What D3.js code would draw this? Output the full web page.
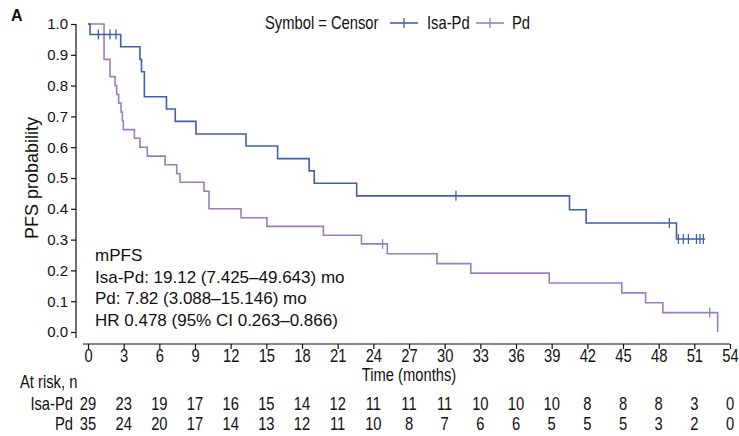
<!DOCTYPE html>
<html lang="en">
<head>
    <meta charset="UTF-8">
    <title>PFS Kaplan-Meier</title>
    <script src="https://cdn.jsdelivr.net/npm/d3@7/dist/d3.min.js"></script>
    <style>
        body{ margin:0; background:#fff; }
        text{ font-family: "Liberation Sans", Arial, sans-serif; fill:#111; }
    </style>
</head>
<body>
<svg width="739" height="436"></svg>
<script>
    // step data: drop time (months) and survival after the drop
    var isaTimes = [0, 0.17, 2.75, 4.37, 4.50, 4.74, 6.60, 7.34, 9.08, 13.29, 15.95, 18.60, 19.03, 22.60, 40.50, 41.90, 49.50, 51.9];
    var isaSurv  = [1, 0.966, 0.926, 0.885, 0.845, 0.764, 0.724, 0.684, 0.643, 0.604, 0.563, 0.523, 0.483, 0.442, 0.397, 0.354, 0.302, 0.302];
    var isaCensor = [0.87, 1.85, 2.35, 30.95, 48.9, 49.66, 50.08, 50.5, 51.18, 51.47, 51.76];

    var pdTimes = [0, 1.35, 1.85, 2.27, 2.41, 2.58, 2.78, 2.89, 2.97, 3.90, 4.37, 4.99, 6.48, 7.46, 7.74, 9.76, 10.18, 12.87, 15.05, 19.80, 23.00, 25.17, 29.35, 32.20, 38.80, 44.90, 46.90, 48.35, 52.96];
    var pdSurv  = [1, 0.885, 0.829, 0.800, 0.771, 0.743, 0.714, 0.686, 0.657, 0.629, 0.600, 0.571, 0.543, 0.514, 0.486, 0.457, 0.400, 0.371, 0.343, 0.314, 0.286, 0.254, 0.222, 0.191, 0.159, 0.127, 0.095, 0.063, 0.0];
    var pdCensor = [24.78, 52.3];

    var xTicks = [0, 3, 6, 9, 12, 15, 18, 21, 24, 27, 30, 33, 36, 39, 42, 45, 48, 51, 54];
    var yTicks = [0, 0.1, 0.2, 0.3, 0.4, 0.5, 0.6, 0.7, 0.8, 0.9, 1.0];
    var isaRisk = [29, 23, 19, 17, 16, 15, 14, 12, 11, 11, 11, 10, 10, 10, 8, 8, 8, 3, 0];
    var pdRisk  = [35, 24, 20, 17, 14, 13, 12, 11, 10, 8, 7, 6, 6, 5, 5, 5, 3, 2, 0];

    var blue = "#3f60ad", purple = "#9b7cc1";
    var squeeze = "scale(0.82,1)";   // no narrow font installed, so squash regular one

    var svg = d3.select("svg");
    var x = d3.scaleLinear().domain([0, 54]).range([88, 730]);
    var y = d3.scaleLinear().domain([0, 1]).range([332, 24]);

    // narrow-looking text at x,y
    function ntext(parent, tx, ty, str, anchor, size) {
        return parent.append("text")
            .attr("transform", "translate(" + tx + "," + ty + ") " + squeeze)
            .attr("text-anchor", anchor || "start")
            .attr("font-size", size || 18)
            .text(str);
    }

    // y axis
    var yAxis = svg.append("g")
        .attr("transform", "translate(76,0)")
        .call(d3.axisLeft(y).tickValues(yTicks).tickFormat(d3.format(".1f")).tickSize(5).tickSizeOuter(0));
    yAxis.select(".domain").remove();
    yAxis.append("line").attr("x1", 0).attr("x2", 0).attr("y1", 24).attr("y2", 338)
        .attr("stroke", "#111").attr("stroke-width", 1.2);
    yAxis.selectAll(".tick line").attr("stroke", "#111").attr("stroke-width", 1.2);
    yAxis.selectAll(".tick text").attr("font-size", 15).attr("x", -8)
        .style("font-family", "'Liberation Sans', Arial, sans-serif").attr("fill", "#111");

    // x axis
    var xAxis = svg.append("g")
        .attr("transform", "translate(0,344)")
        .call(d3.axisBottom(x).tickValues(xTicks).tickFormat(d3.format("d")).tickSize(5).tickSizeOuter(0));
    xAxis.select(".domain").remove();
    xAxis.append("line").attr("x1", 83).attr("x2", 730).attr("y1", 0).attr("y2", 0)
        .attr("stroke", "#111").attr("stroke-width", 1.2);
    xAxis.selectAll(".tick line").attr("stroke", "#111").attr("stroke-width", 1.2);
    xAxis.selectAll(".tick text").attr("font-size", 18).attr("y", 5)
        .attr("transform", squeeze)
        .style("font-family", "'Liberation Sans', Arial, sans-serif").attr("fill", "#111");

    ntext(svg, 409, 381, "Time (months)", "middle");

    svg.append("text").attr("x", 33).attr("y", 178)
        .attr("transform", "rotate(-90,33,178)")
        .attr("text-anchor", "middle").attr("dominant-baseline", "middle")
        .attr("font-size", 18).text("PFS probability");

    svg.append("text").attr("x", 11).attr("y", 21).attr("font-size", 16)
        .attr("font-weight", "bold").text("A");

    // curves
    var line = d3.line().curve(d3.curveStepAfter)
        .x(function (d) { return x(d[0]); })
        .y(function (d) { return y(d[1]); });

    function stepValue(times, surv, t) {
        var i = d3.bisectRight(times, t) - 1;
        return surv[Math.max(i, 0)];
    }

    function drawCurve(times, surv, censor, color) {
        var pts = times.map(function (t, i) { return [t, surv[i]]; });
        svg.append("path").datum(pts)
            .attr("d", line)
            .attr("fill", "none")
            .attr("stroke", color)
            .attr("stroke-width", 1.6);
        svg.append("g").selectAll("line").data(censor).enter().append("line")
            .attr("x1", function (d) { return x(d); })
            .attr("x2", function (d) { return x(d); })
            .attr("y1", function (d) { return y(stepValue(times, surv, d)) - 5; })
            .attr("y2", function (d) { return y(stepValue(times, surv, d)) + 5; })
            .attr("stroke", color)
            .attr("stroke-width", 1.3);
    }

    drawCurve(pdTimes, pdSurv, pdCensor, purple);
    drawCurve(isaTimes, isaSurv, isaCensor, blue);

    // legend
    var leg = svg.append("g");
    ntext(leg, 265, 29, "Symbol = Censor");
    [[blue, "Isa-Pd", 390, 427], [purple, "Pd", 476, 512]].forEach(function (d) {
        leg.append("line").attr("x1", d[2]).attr("x2", d[2] + 28).attr("y1", 23).attr("y2", 23)
            .attr("stroke", d[0]).attr("stroke-width", 1.6);
        leg.append("line").attr("x1", d[2] + 14).attr("x2", d[2] + 14).attr("y1", 18).attr("y2", 28)
            .attr("stroke", d[0]).attr("stroke-width", 1.3);
        ntext(leg, d[3], 29, d[1]);
    });

    // median text
    var med = ["mPFS", "Isa-Pd: 19.12 (7.425\u201349.643) mo", "Pd: 7.82 (3.088\u201315.146) mo", "HR 0.478 (95% CI 0.263\u20130.866)"];
    svg.append("g").selectAll("text").data(med).enter().append("text")
        .attr("x", 95)
        .attr("y", function (d, i) { return 261 + i * 21.7; })
        .attr("font-size", 17)
        .text(function (d) { return d; });

    // at risk table
    var risk = svg.append("g");
    ntext(risk, 20, 388, "At risk, n");
    ntext(risk, 73, 410, "Isa-Pd", "end");
    ntext(risk, 73, 430, "Pd", "end");
    isaRisk.forEach(function (d, i) { ntext(risk, x(xTicks[i]), 410, d, "middle"); });
    pdRisk.forEach(function (d, i) { ntext(risk, x(xTicks[i]), 430, d, "middle"); });
</script>
</body>
</html>
